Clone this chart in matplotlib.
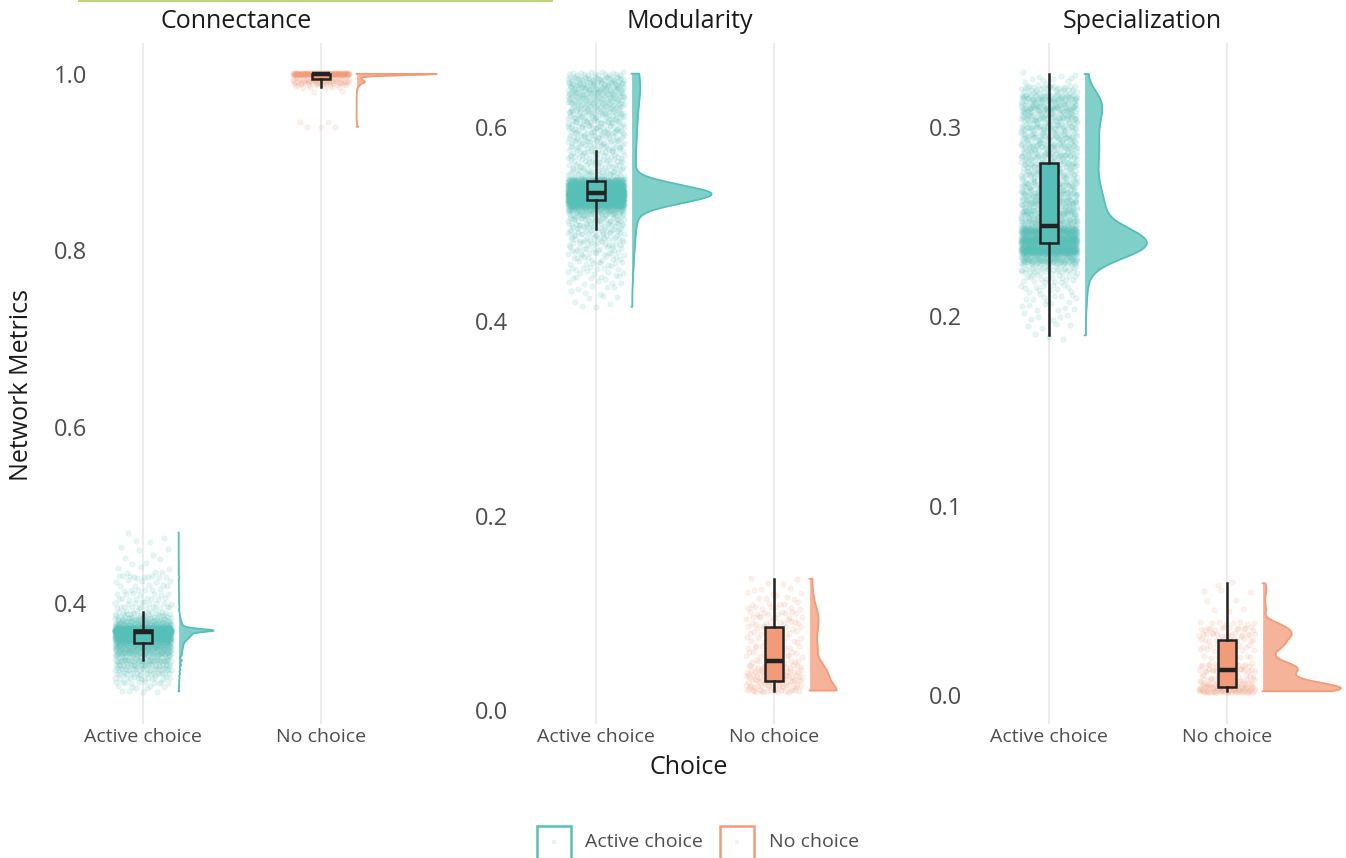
import numpy as np
import matplotlib
matplotlib.use("Agg")
import matplotlib.pyplot as plt
from matplotlib.patches import Rectangle

plt.rcParams['font.family'] = ['Open Sans', 'DejaVu Sans']

# ---------------------------------------------------------------- data
groups = ["Active choice", "No choice"]
metrics = ["Connectance", "Modularity", "Specialization"]

# each metric: observed value levels and the number of networks at each level
conn_active_values = [0.300, 0.305, 0.310, 0.315, 0.320, 0.325, 0.330, 0.335,
                      0.3400, 0.3425, 0.3450, 0.3475, 0.3500, 0.3525, 0.3550,
                      0.3575, 0.3600, 0.3625, 0.3650, 0.3675, 0.3690, 0.3710,
                      0.3725, 0.3750, 0.3775, 0.3800, 0.3825, 0.3850, 0.3875,
                      0.3900, 0.395, 0.400, 0.405, 0.410, 0.415, 0.420, 0.425,
                      0.430, 0.435, 0.440, 0.445, 0.450, 0.455, 0.460, 0.465,
                      0.470, 0.475, 0.480]
conn_active_counts = [4, 6, 10, 14, 20, 26, 34, 44,
                      27, 30, 33, 36, 40, 44, 48,
                      70, 90, 110, 130, 100, 380, 90,
                      50, 38, 30, 24, 18, 14, 11,
                      9, 12, 9, 8, 7, 6, 5, 5,
                      10, 3, 3, 2, 2, 1, 2, 1,
                      2, 1, 1]
conn_none_values = [0.940, 0.945, 0.980, 0.985, 0.988, 0.991, 0.994, 0.997, 1.000]
conn_none_counts = [3, 2, 2, 6, 12, 30, 15, 10, 160]

mod_active_values = [0.415, 0.420, 0.425, 0.430, 0.435, 0.440, 0.445, 0.450,
                     0.455, 0.460, 0.465, 0.470, 0.475, 0.480, 0.485, 0.490,
                     0.495, 0.500, 0.505, 0.510, 0.515, 0.520, 0.525, 0.530,
                     0.5325, 0.535, 0.540, 0.545, 0.550, 0.555, 0.560, 0.565,
                     0.570, 0.575, 0.580, 0.585, 0.590, 0.595, 0.600, 0.605,
                     0.610, 0.615, 0.620, 0.625, 0.630, 0.635, 0.640, 0.645,
                     0.650, 0.655]
mod_active_counts = [2, 2, 3, 3, 4, 5, 6, 7,
                     8, 9, 10, 12, 13, 15, 16, 18,
                     20, 22, 26, 35, 70, 174, 300, 300,
                     180, 240, 220, 120, 22, 20, 18, 18,
                     18, 19, 20, 21, 22, 23, 24, 25,
                     26, 28, 30, 32, 34, 36, 38, 38,
                     32, 16]
mod_none_values = [0.020, 0.025, 0.030, 0.035, 0.040, 0.045, 0.050, 0.055,
                   0.060, 0.065, 0.070, 0.075, 0.080, 0.085, 0.090, 0.095,
                   0.100, 0.105, 0.110, 0.115, 0.120, 0.125, 0.130, 0.135]
mod_none_counts = [20, 20, 20, 20, 18, 16, 10, 7,
                   8, 9, 7, 6, 8, 9, 9, 9,
                   9, 7, 5, 4, 4, 3, 2, 2]

spec_active_values = [0.190, 0.195, 0.200, 0.205, 0.210, 0.215, 0.220, 0.225,
                      0.230, 0.235, 0.240, 0.245, 0.250, 0.255, 0.260, 0.265,
                      0.270, 0.275, 0.280, 0.285, 0.290, 0.295, 0.300, 0.305,
                      0.310, 0.315, 0.320, 0.325, 0.328]
spec_active_counts = [3, 4, 6, 8, 10, 12, 18, 35,
                      114, 290, 280, 220, 90, 87, 82, 72,
                      61, 54, 54, 60, 60, 57, 57, 65,
                      80, 74, 36, 9, 2]
spec_none_values = [0.002, 0.004, 0.006, 0.008, 0.010, 0.013, 0.016, 0.020,
                    0.024, 0.026, 0.029, 0.032, 0.035, 0.038, 0.045, 0.050,
                    0.055, 0.059]
spec_none_counts = [40, 30, 20, 12, 10, 20, 18, 8,
                    6, 10, 12, 16, 14, 8, 3, 2,
                    3, 2]

y_ticks = [[0.4, 0.6, 0.8, 1.0], [0.0, 0.2, 0.4, 0.6], [0.0, 0.1, 0.2, 0.3]]

panels = [
    [(conn_active_values, conn_active_counts), (conn_none_values, conn_none_counts)],
    [(mod_active_values, mod_active_counts), (mod_none_values, mod_none_counts)],
    [(spec_active_values, spec_active_counts), (spec_none_values, spec_none_counts)],
]

# ---------------------------------------------------------------- styling
colors = {"Active choice": "#55BFB8", "No choice": "#F29B78"}
ink = "#222222"
grey_text = "#4D4D4D"

# kernel bandwidth, boundary reflection, half-violin max width and
# point jitter height per panel/group
bandwidths = [(0.0015, 0.0015), (0.005, 0.006), (0.005, 0.0023)]
reflect_ends = [(True, True), (True, True), (True, False)]
slab_widths = [(0.197, 0.45), (0.45, 0.152), (0.35, 0.44)]
jitter_h = [(0.0012, 0.0010), (0.002, 0.0015), (0.0022, 0.0008)]
y_limits = [(0.263, 1.035), (-0.0144, 0.6866), (-0.0153, 0.3444)]
x_limits = [(0.693, 2.67), (0.514, 2.67), (0.519, 2.67)]

W, H, DPI = 1346, 858, 100
fig = plt.figure(figsize=(W / DPI, H / DPI), dpi=DPI)
fig.patch.set_facecolor("white")

first_cat_px = [143, 596, 1049]
unit_px = 178.0
top_px, bottom_px = 43, 724


def px_rect(x0, y0, x1, y1):
    return [x0 / W, 1 - y1 / H, (x1 - x0) / W, (y1 - y0) / H]


def radical_inverse(i, base):
    """Van der Corput radical inverse, used for even jitter offsets."""
    i = np.asarray(i, dtype=np.int64).copy()
    out = np.zeros(i.shape, dtype=float)
    f = 1.0 / base
    while np.any(i > 0):
        out += f * (i % base)
        i //= base
        f /= base
    return out


def kernel_density(grid, vals, cnts, bw, reflect):
    """Gaussian KDE, optionally reflected at both ends of the data range."""
    lo, hi = vals.min(), vals.max()
    centres = [vals, 2 * lo - vals, 2 * hi - vals] if reflect else [vals]
    dens = np.zeros_like(grid)
    for centre in centres:
        dens += (cnts[None, :] *
                 np.exp(-0.5 * ((grid[:, None] - centre[None, :]) / bw) ** 2)).sum(axis=1)
    return dens


for k, metric in enumerate(metrics):
    xl, xr = x_limits[k]
    left = first_cat_px[k] - (1 - xl) * unit_px
    right = first_cat_px[k] + (xr - 1) * unit_px
    ax = fig.add_axes(px_rect(left, top_px, right, bottom_px))
    ax.set_xlim(xl, xr)
    ax.set_ylim(*y_limits[k])
    for s in ax.spines.values():
        s.set_visible(False)
    ax.set_facecolor("white")

    ax.set_xticks([1, 2])
    ax.set_xticklabels(groups)
    ax.set_yticks(y_ticks[k])
    ax.set_yticklabels([f"{t:.1f}" for t in y_ticks[k]])
    ax.tick_params(axis="x", length=0, pad=3, labelsize=14, labelcolor=grey_text)
    ax.tick_params(axis="y", length=0, pad=1, labelsize=17, labelcolor=grey_text)
    ax.xaxis.grid(True, color="#EBEBEB", lw=1.3)
    ax.yaxis.grid(False)
    ax.set_axisbelow(True)

    for g, (vals, cnts) in enumerate(panels[k]):
        pos = g + 1
        col = colors[groups[g]]
        vals = np.asarray(vals, dtype=float)
        cnts = np.asarray(cnts, dtype=int)
        data = np.repeat(vals, cnts)
        n = data.size

        # jittered raw points (Halton offsets)
        idx = np.arange(1, n + 1)
        u1 = radical_inverse(idx, 2)
        u2 = radical_inverse(idx, 3)
        ax.scatter(pos + (u1 - 0.5) * 0.32,
                   data + (u2 - 0.5) * 2 * jitter_h[k][g],
                   s=15, color=col, alpha=0.15, linewidths=0.4,
                   edgecolors=col, zorder=2)

        # boxplot
        ax.boxplot(data, positions=[pos], widths=0.1, whis=1.5,
                   showfliers=False, showcaps=False, patch_artist=True,
                   manage_ticks=False,
                   boxprops=dict(facecolor=col, edgecolor=ink, lw=1.8),
                   medianprops=dict(color=ink, lw=3.2),
                   whiskerprops=dict(color=ink, lw=1.8),
                   zorder=4)

        # half violin (kernel density over the data range)
        grid = np.linspace(vals.min(), vals.max(), 800)
        dens = kernel_density(grid, vals, cnts, bandwidths[k][g], reflect_ends[k][g])
        w = dens / dens.max() * slab_widths[k][g]
        x0 = pos + 0.2
        ax.fill_betweenx(grid, x0, x0 + w, color=col, alpha=0.75, lw=0, zorder=3)
        ax.plot(np.r_[x0, x0 + w, x0], np.r_[grid[0], grid, grid[-1]],
                color=col, lw=1.3, zorder=3)

    # facet strip title
    fig.text((first_cat_px[k] + 0.525 * unit_px) / W, 1 - 21 / H, metric,
             ha="center", va="center", fontsize=18, color="#1A1A1A")

# axis titles
fig.text(22 / W, 1 - 385 / H, "Network Metrics", rotation=90,
         ha="center", va="center", fontsize=18, color="#1A1A1A")
fig.text(689 / W, 1 - 768 / H, "Choice", ha="center", va="center",
         fontsize=18, color="#1A1A1A")

# legend
for key_x, label, text_x in [(537, "Active choice", 585), (720, "No choice", 769)]:
    col = colors[label]
    fig.patches.append(Rectangle((key_x / W, 1 - 862 / H), 34 / W, 36 / H,
                                 transform=fig.transFigure, facecolor="white",
                                 edgecolor=col, lw=1.8))
    fig.patches.append(Rectangle(((key_x + 15) / W, 1 - 844 / H), 4 / W, 4 / H,
                                 transform=fig.transFigure, facecolor=col,
                                 edgecolor="none", alpha=0.15))
    fig.text(text_x / W, 1 - 842 / H, label, ha="left", va="center",
             fontsize=14, color=grey_text)

# thin accent rule along the top edge
fig.patches.append(Rectangle((78 / W, 1 - 2 / H), 475 / W, 2 / H,
                             transform=fig.transFigure, facecolor="#B9D67A",
                             edgecolor="none"))

fig.savefig("out.png", dpi=DPI, facecolor="white")
